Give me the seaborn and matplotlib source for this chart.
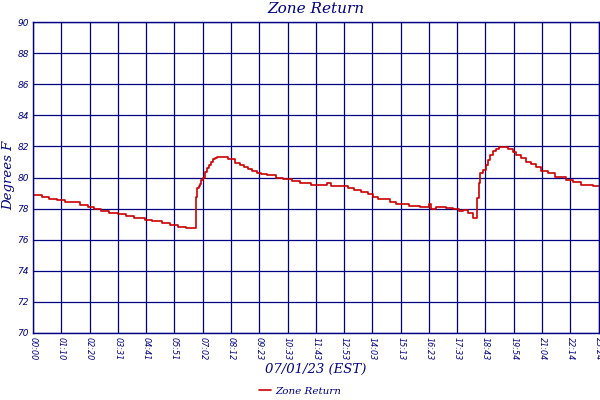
import matplotlib
matplotlib.use("Agg")
import matplotlib.pyplot as plt
import seaborn as sns
import pandas as pd

# time in minutes since 00:00, zone return temperature (deg F)
minutes = [0, 23, 40, 60, 79, 117, 137, 151, 170, 189, 210, 230, 251, 278, 296, 321, 340, 360, 381,
           404, 407, 412, 414, 418, 422, 427, 432, 437, 442, 447, 452, 456, 484,
           489, 501, 514, 523, 533, 543, 555, 565, 580, 603, 621, 644, 664, 691, 731, 739,
           781, 796, 813, 832, 844, 857, 886, 900, 933, 960, 983, 989, 1001, 1026, 1043,
           1057, 1067, 1079, 1091, 1101, 1106, 1109, 1116, 1124, 1129, 1135, 1142, 1150,
           1158, 1179, 1191, 1200, 1212, 1225, 1235, 1249, 1262, 1278, 1295, 1324, 1340,
           1361, 1390, 1407]
temps = [78.86, 78.73, 78.62, 78.55, 78.42, 78.21, 78.08, 77.97, 77.86, 77.72, 77.63, 77.50, 77.40,
         77.29, 77.20, 77.10, 76.95, 76.82, 76.75,
         78.77, 79.30, 79.45, 79.60, 79.84, 80.00, 80.35, 80.60, 80.82, 81.00, 81.20, 81.28, 81.30, 81.19,
         81.17, 80.91, 80.78, 80.66, 80.53, 80.40, 80.31, 80.20, 80.14, 79.97, 79.88, 79.76, 79.63,
         79.52, 79.63, 79.47,
         79.33, 79.20, 79.05, 78.92, 78.75, 78.60, 78.44, 78.30, 78.17, 78.12, 78.28, 77.95, 78.08,
         78.02, 77.95,
         77.85, 77.90, 77.74, 77.41, 78.66, 79.63, 80.27, 80.48, 80.80, 81.13, 81.45, 81.70, 81.81,
         81.94, 81.83, 81.66, 81.45, 81.23, 81.02, 80.87, 80.66, 80.44, 80.27, 80.01, 79.84, 79.69,
         79.52, 79.45, 79.45]

tick_labels = ["00:00", "01:10", "02:20", "03:31", "04:41", "05:51", "07:02", "08:12", "09:23",
               "10:33", "11:43", "12:53", "14:03", "15:13", "16:23", "17:33", "18:43", "19:54",
               "21:04", "22:14", "23:24"]
y_ticks = [70, 72, 74, 76, 78, 80, 82, 84, 86, 88, 90]

navy = "#000080"
red = "#cc0000"

sns.set_style("white")
plt.rcParams['font.family'] = ['DejaVu Serif']

df = pd.DataFrame({"Minutes": minutes, "Zone Return": temps})

fig = plt.figure(figsize=(6, 4), dpi=100)
ax = fig.add_axes([33/600, 1 - 333/400, 566/600, 311/400])

sns.lineplot(data=df, x="Minutes", y="Zone Return", ax=ax, color=red, linewidth=1.2,
             drawstyle="steps-post", label="Zone Return", legend=False)

tick_pos = [i * 70.2 for i in range(len(tick_labels))]
ax.set_xlim(0, 1405)
ax.set_ylim(70, 90)
ax.set_xticks(tick_pos)
ax.set_xticklabels(tick_labels, rotation=270, fontsize=5.8, style="italic", color=navy,
                   family="DejaVu Sans")
ax.set_yticks(y_ticks)
ax.set_yticklabels([str(v) for v in y_ticks], fontsize=6.5, style="italic", color=navy,
                   family="DejaVu Sans")
ax.tick_params(axis="both", length=0, pad=3)
ax.grid(True, color=navy, linewidth=0.9)
ax.set_axisbelow(True)
for s in ax.spines.values():
    s.set_color(navy)
    s.set_linewidth(1.0)

ax.set_xlabel("")
ax.set_ylabel("")
fig.text(316/600, 1 - 369/400, "07/01/23 (EST)", fontsize=9.5, style="italic", color=navy,
         ha="center", va="center")
fig.text(9/600, 1 - 175/400, "Degrees F", fontsize=9.5, style="italic", color=navy,
         ha="center", va="center", rotation=90)
fig.text(316/600, 1 - 9/400, "Zone Return", fontsize=11, style="italic", color=navy,
         ha="center", va="center")

handles, labels = ax.get_legend_handles_labels()
leg = fig.legend(handles, labels, loc="center", bbox_to_anchor=(300/600, 1 - 391/400), frameon=False,
                 fontsize=7.5, handlelength=1.2, handletextpad=0.4, borderpad=0.1)
for t in leg.get_texts():
    t.set_color(navy)
    t.set_style("italic")

fig.savefig("out.png", dpi=100, facecolor="white")
